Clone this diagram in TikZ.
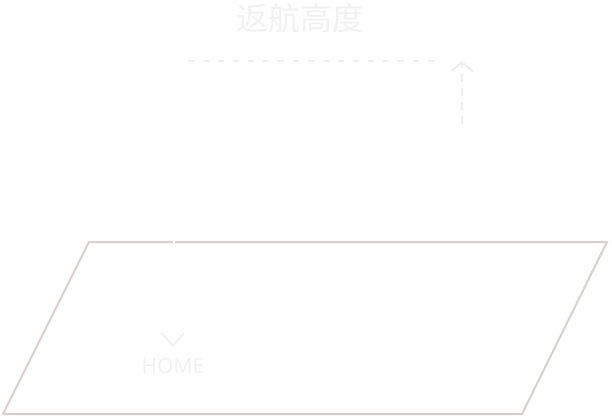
\documentclass[tikz,border=0pt]{standalone}
\usepackage{fontspec}
\newfontfamily\cjk{Noto Sans CJK SC}
\setsansfont{Noto Sans}
\usetikzlibrary{arrows.meta}
\definecolor{frame}{HTML}{D6D1CE}
\definecolor{faint}{HTML}{F1F1F1}
\definecolor{faintline}{HTML}{EDEDED}
\tikzset{
  ground/.style={draw=frame, line width=2pt, line join=miter},
  guide/.style={draw=faintline, line width=2pt, dash pattern=on 6pt off 9pt},
  riseline/.style={draw=faintline, line width=2pt, dash pattern=on 8pt off 6pt,
    -{Straight Barb[length=9pt,width=22pt,line width=2pt]}},
  label/.style={text=faint, inner sep=0pt, anchor=center},
}
\begin{document}
\begin{tikzpicture}[x=1pt,y=-1pt]
\useasboundingbox (0,0) rectangle (612,417);
% ground plane
\draw[ground] (89,242) -- (607,242) -- (522,414) -- (3,414) -- cycle;
% white descent line crossing the plane edge
\coordinate (top) at (174,200);
\coordinate (homept) at (174,328);
\draw[white, line width=2pt] (top) -- (homept);
% title
\node[label, font=\cjk\fontsize{32}{32}\selectfont] (title) at (300,18) {返航高度};
% horizontal dashed guide
\coordinate (g1) at (188,61);
\coordinate (g2) at (437,61);
\draw[guide] (g1) -- (g2);
% vertical rising arrow
\coordinate (a1) at (462,124);
\coordinate (a2) at (462,61);
\draw[riseline] (a1) -- (a2);
% home marker
\coordinate (c1) at (162,333);
\coordinate (c2) at (173,346);
\coordinate (c3) at (184,333);
\draw[faint, line width=2pt] (c1) -- (c2) -- (c3);
\node[label, font=\sffamily\fontsize{21}{21}\selectfont] (home) at (173,366) {HOME};
\end{tikzpicture}
\end{document}
